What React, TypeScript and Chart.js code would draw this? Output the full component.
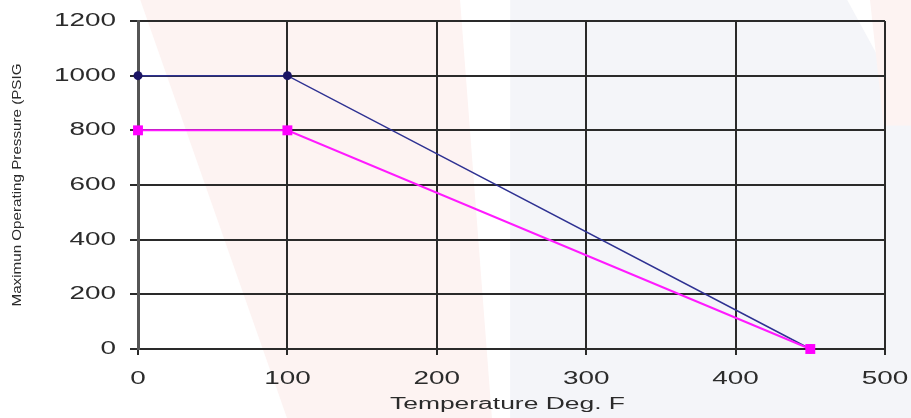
import React, { useEffect, useRef } from 'react';
import { Chart, registerables } from 'chart.js';

Chart.register(...registerables);

// ---- data ----
const temperatures = [0, 100, 450];
const pressureHigh = [1000, 1000, 0];
const pressureLow = [800, 800, 0];
const xTickValues = [0, 100, 200, 300, 400, 500];
const yTickValues = [0, 200, 400, 600, 800, 1000, 1200];
const xTitle = 'Temperature Deg. F';
const yTitle = 'Maximun Operating Pressure (PSIG';

const TEXT_COLOR = '#2b2b2b';
const GRID_COLOR = '#2a2a2a';

const decorPlugin = {
  id: 'decor',
  beforeDraw(chart: any) {
    const { ctx, width: w, height: h } = chart;
    ctx.save();
    ctx.fillStyle = '#ffffff';
    ctx.fillRect(0, 0, w, h);
    // faint watermark shapes
    ctx.fillStyle = '#fdf3f2';
    ctx.beginPath();
    ctx.moveTo(w * 0.154, 0);
    ctx.lineTo(w * 0.505, 0);
    ctx.lineTo(w * 0.54, h);
    ctx.lineTo(w * 0.315, h);
    ctx.closePath();
    ctx.fill();
    ctx.fillStyle = '#f4f5f9';
    ctx.beginPath();
    ctx.moveTo(w * 0.56, 0);
    ctx.lineTo(w * 0.93, 0);
    ctx.lineTo(w, h * 0.28);
    ctx.lineTo(w, h);
    ctx.lineTo(w * 0.56, h);
    ctx.closePath();
    ctx.fill();
    ctx.fillStyle = '#fdf3f2';
    ctx.beginPath();
    ctx.moveTo(w * 0.955, 0);
    ctx.lineTo(w, 0);
    ctx.lineTo(w, h * 0.3);
    ctx.lineTo(w * 0.97, h * 0.3);
    ctx.closePath();
    ctx.fill();
    ctx.restore();
  },
  afterDraw(chart: any) {
    const { ctx, chartArea } = chart;
    const xs = chart.scales.x;
    const ys = chart.scales.y;
    ctx.save();
    ctx.fillStyle = TEXT_COLOR;
    ctx.font = '18px "Liberation Sans", Arial, sans-serif';
    ctx.textBaseline = 'middle';
    // y tick labels
    ctx.textAlign = 'right';
    ys.ticks.forEach((t: any) => {
      const y = ys.getPixelForValue(t.value);
      ctx.save();
      ctx.translate(ys.right - 22, y);
      ctx.scale(1.55, 1);
      ctx.fillText(String(t.value), 0, 0);
      ctx.restore();
    });
    // x tick labels
    ctx.textAlign = 'center';
    xs.ticks.forEach((t: any) => {
      const x = xs.getPixelForValue(t.value);
      ctx.save();
      ctx.translate(x, xs.top + 30);
      ctx.scale(1.55, 1);
      ctx.fillText(String(t.value), 0, 0);
      ctx.restore();
    });
    // x title
    ctx.font = '16px "Liberation Sans", Arial, sans-serif';
    ctx.textBaseline = 'alphabetic';
    const xw = ctx.measureText(xTitle).width;
    ctx.save();
    ctx.translate((chartArea.left + chartArea.right) / 2 - 4, xs.top + 60);
    ctx.scale(235 / xw, 1);
    ctx.fillText(xTitle, 0, 0);
    ctx.restore();
    // y title
    ctx.font = '13px "Liberation Sans", Arial, sans-serif';
    ctx.textBaseline = 'middle';
    const yw = ctx.measureText(yTitle).width;
    ctx.save();
    ctx.translate(ys.left + 17, (chartArea.top + chartArea.bottom) / 2);
    ctx.rotate(-Math.PI / 2);
    ctx.scale(243 / yw, 1.05);
    ctx.fillText(yTitle, 0, 0);
    ctx.restore();
    ctx.restore();
  },
};

export default function App() {
  const ref = useRef<HTMLCanvasElement | null>(null);

  useEffect(() => {
    if (!ref.current) return;
    const chart = new Chart(ref.current, {
      type: 'line',
      data: {
        datasets: [
          {
            label: '800',
            data: temperatures.map((t, i) => ({ x: t, y: pressureLow[i] })),
            borderColor: '#ff1aff',
            backgroundColor: '#ff00ff',
            borderWidth: 2,
            pointStyle: 'rect',
            pointRadius: 7,
            pointBorderWidth: 0,
            order: 0,
            clip: false as any,
          },
          {
            label: '1000',
            data: temperatures.map((t, i) => ({ x: t, y: pressureHigh[i] })),
            borderColor: '#2e3192',
            backgroundColor: '#1b1464',
            borderWidth: 1.5,
            pointStyle: 'circle',
            pointRadius: 4.5,
            pointBorderWidth: 0,
            order: 1,
            clip: false as any,
          },
        ],
      },
      options: {
        animation: false,
        responsive: false,
        devicePixelRatio: 1,
        layout: { padding: { top: 21, right: 26, left: 0, bottom: 0 } },
        plugins: { legend: { display: false }, tooltip: { enabled: false } },
        scales: {
          x: {
            type: 'linear',
            min: 0,
            max: 500,
            afterBuildTicks: (s: any) => {
              s.ticks = xTickValues.map((v) => ({ value: v }));
            },
            afterFit: (s: any) => {
              s.height = 69;
            },
            ticks: { display: false },
            grid: { color: GRID_COLOR, lineWidth: 2, tickLength: 6 },
            border: { color: GRID_COLOR, width: 2 },
          },
          y: {
            type: 'linear',
            min: 0,
            max: 1200,
            afterBuildTicks: (s: any) => {
              s.ticks = yTickValues.map((v) => ({ value: v }));
            },
            afterFit: (s: any) => {
              s.width = 138;
            },
            ticks: { display: false },
            grid: { color: GRID_COLOR, lineWidth: 2, tickLength: 8 },
            border: { color: '#555555', width: 3 },
          },
        },
      },
      plugins: [decorPlugin],
    });
    return () => chart.destroy();
  }, []);

  return (
    <div style={{ position: 'absolute', left: 0, top: 0, width: 911, height: 418 }}>
      <canvas ref={ref} width={911} height={418} style={{ display: 'block', width: 911, height: 418 }} />
    </div>
  );
}
